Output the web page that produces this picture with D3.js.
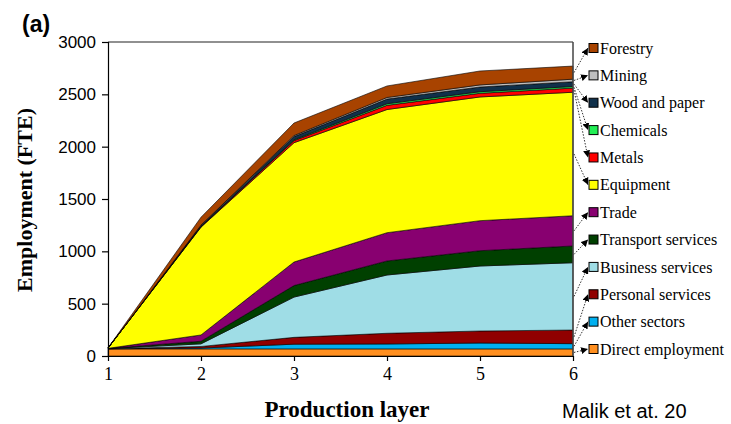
<!DOCTYPE html>
<html><head><meta charset="utf-8">
<script src="https://cdn.jsdelivr.net/npm/d3@7"></script>
<style>
html,body{margin:0;padding:0;background:#fff;overflow:hidden;}
svg{display:block;}
</style></head>
<body><svg id="c" width="731" height="424"></svg>
<script>
const layers = [1, 2, 3, 4, 5, 6];
const seriesNames = ["Direct employment","Other sectors","Personal services","Business services","Transport services","Trade","Equipment","Metals","Chemicals","Wood and paper","Mining","Forestry"];
const seriesColors = ["#ff8f20","#00b0f0","#900000","#9fdde6","#004000","#880070","#ffff00","#ff0000","#22ee55","#10304a","#bfbfbf","#a84300"];
const directEmployment = [68, 68, 68, 68, 68, 68];
const otherSectors     = [1, 8, 45, 47, 56, 50];
const personalServices = [1, 15, 65, 102, 115, 130];
const businessServices = [1, 25, 385, 557, 621, 643];
const transportServices= [1, 25, 110, 134, 146, 160];
const trade            = [1, 60, 225, 270, 287, 289];
const equipment        = [3, 1030, 1140, 1177, 1182, 1180];
const metals           = [0, 5, 20, 40, 35, 40];
const chemicals        = [0, 2, 8, 15, 15, 15];
const woodAndPaper     = [0, 10, 30, 45, 45, 45];
const mining           = [0, 3, 10, 15, 20, 25];
const forestry         = [1, 75, 120, 110, 133, 125];
const yTicks = [0, 500, 1000, 1500, 2000, 2500, 3000];

const seriesValues = [directEmployment, otherSectors, personalServices, businessServices, transportServices, trade, equipment, metals, chemicals, woodAndPaper, mining, forestry];
const table = layers.map((l, i) => {
  const row = {layer: l};
  seriesNames.forEach((n, k) => row[n] = seriesValues[k][i]);
  return row;
});

const svg = d3.select("#c");
const x0 = 108, x1 = 573, yTop = 42, yBot = 356;
const x = d3.scaleLinear().domain([1, 6]).range([x0, x1]);
const y = d3.scaleLinear().domain([0, 3000]).range([yBot, yTop]);

const stack = d3.stack().keys(seriesNames);
const stacked = stack(table);
const area = d3.area().x(d => x(d.data.layer)).y0(d => y(d[0])).y1(d => y(d[1])).curve(d3.curveLinear);

svg.append("g").selectAll("path").data(stacked).join("path")
  .attr("d", area)
  .attr("fill", (d, i) => seriesColors[i])
  .attr("stroke", "#000").attr("stroke-width", 0.6).attr("stroke-linejoin", "round");

// frame top and right
svg.append("line").attr("x1", x0).attr("x2", x1).attr("y1", yTop).attr("y2", yTop).attr("stroke", "#222").attr("stroke-width", 1.2);
svg.append("line").attr("x1", x1).attr("x2", x1).attr("y1", yTop).attr("y2", yBot).attr("stroke", "#444").attr("stroke-width", 1.5);

// axes
const yAxis = svg.append("g").attr("transform", `translate(${x0},0)`)
  .call(d3.axisLeft(y).tickValues(yTicks).tickFormat(d3.format("d")).tickSize(6).tickPadding(6));
yAxis.selectAll("text").attr("font-family", "Liberation Sans, Arial, sans-serif").attr("font-size", 17).attr("fill", "#000");
yAxis.selectAll("line, path").attr("stroke", "#000").attr("stroke-width", 1.2);

const xAxis = svg.append("g").attr("transform", `translate(0,${yBot})`)
  .call(d3.axisBottom(x).tickValues(layers).tickFormat(d3.format("d")).tickSize(5).tickPadding(6).tickSizeOuter(0));
xAxis.selectAll("text").attr("font-family", "Liberation Serif, serif").attr("font-size", 18).attr("fill", "#000");
xAxis.selectAll("line, path").attr("stroke", "#000").attr("stroke-width", 1.2);

// axis titles
svg.append("text").attr("x", 347).attr("y", 417).attr("text-anchor", "middle")
  .attr("font-family", "Liberation Serif, serif").attr("font-weight", "bold").attr("font-size", 23)
  .text("Production layer");
svg.append("text").attr("transform", "translate(32,200) rotate(-90)").attr("text-anchor", "middle")
  .attr("font-family", "Liberation Serif, serif").attr("font-weight", "bold").attr("font-size", 22)
  .text("Employment (FTE)");

svg.append("text").attr("x", 22).attr("y", 32)
  .attr("font-family", "Liberation Sans, Arial, sans-serif").attr("font-weight", "bold").attr("font-size", 23)
  .text("(a)");
svg.append("text").attr("x", 562).attr("y", 418)
  .attr("font-family", "Liberation Sans, Arial, sans-serif").attr("font-size", 20)
  .text("Malik et at. 20");

// legend with leader lines
const defs = svg.append("defs");
defs.append("marker").attr("id", "arr").attr("viewBox", "0 0 10 10").attr("refX", 10).attr("refY", 5)
  .attr("markerWidth", 7).attr("markerHeight", 7).attr("orient", "auto")
  .append("path").attr("d", "M0,0L10,5L0,10z").attr("fill", "#000");

const legendOrder = seriesNames.slice().reverse();
const ly = d3.scalePoint().domain(legendOrder).range([48, 349]);
const lastIdx = layers.length - 1;
const lg = svg.append("g");
legendOrder.forEach(name => {
  const k = seriesNames.indexOf(name);
  const s = stacked[k][lastIdx];
  const mid = (s[0] + s[1]) / 2;
  const ry = ly(name);
  lg.append("line").attr("x1", x1 + 1).attr("y1", y(mid)).attr("x2", 588).attr("y2", ry)
    .attr("stroke", "#333").attr("stroke-width", 1).attr("stroke-dasharray", "1.5,1.5")
    .attr("marker-end", "url(#arr)");
  lg.append("rect").attr("x", 589).attr("y", ry - 4.5).attr("width", 9).attr("height", 9)
    .attr("fill", seriesColors[k]).attr("stroke", "#000").attr("stroke-width", 1);
  lg.append("text").attr("x", 600).attr("y", ry).attr("dy", "0.35em")
    .attr("font-family", "Liberation Serif, serif").attr("font-size", 16)
    .text(name);
});
</script></body></html>
